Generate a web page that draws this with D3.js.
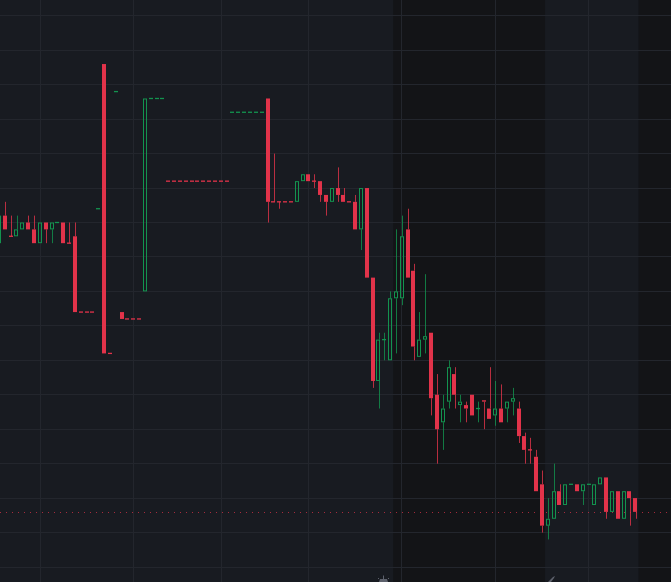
<!DOCTYPE html>
<html><head><meta charset="utf-8">
<script src="https://cdn.jsdelivr.net/npm/d3@7"></script>
<style>html,body{margin:0;padding:0;background:#181b21;overflow:hidden}</style>
</head><body><svg id="c" width="671" height="582"></svg>
<script>
// ---- data (bar index starts at firstBar) ----
const firstBar = -1;
const opens = [194,202,196,196,198,200,198,194,200,198,200,200,194,196,
  174,174,174,204,246,162,238,174,172,172,172,180,236,236,236,
  212,212,212,212,212,212,212,212,212,212,212,
  232,232,232,232,232,232,
  236,206,206,206,206,
  206,212,214,212,212,208,206,210,208,206,206,198,210,184,154,166,160,178,178,198,186,161,166,168,150,142,148,156,147,147,150,146,148.4,146,144,146,146,148,146,138,134,132,124,112,114,122,118,124,124,122,124,118,124,126,116,122,114,122,120];
const highs = [202,206,202,202,200,202,202,200,200,200,200,200,200,200,
  174,174,174,204,246,162,238,174,172,172,172,236,236,236,236,
  212,212,212,212,212,212,212,212,212,212,212,
  232,232,232,232,232,232,
  236,220,206,206,206,
  212,214,214,214,212,208,210,216,210,206,208,210,210,184,168,168,180,198,202,204,188,174,185,168,156,150,160,158,150,148,150,148,148.4,158,154,153,148,152,148,139,137.5,134,128,120,130,124,124,124,124,124,124,124,126,126,122,122,122,122,120];
const lows = [194,198,196,196,198,198,194,194,194,194,200,194,194,174,
  174,174,174,204,162,162,238,172,172,172,172,180,236,236,236,
  212,212,212,212,212,212,212,212,212,212,212,
  232,232,232,232,232,232,
  200,206,204,206,206,
  206,212,212,210,206,202,206,206,206,206,198,192,184,152,146,160,160,162,176,184,160,161,162,144,130,134,146,146,142,142,144,142,140,143,141,142,142,144,136,130,130,122,110,108,114,118,118,124,122,118,124,118,124,114,116,114,114,112,114];
const closes = [202,198,196,198,200,198,194,200,198,200,200,194,194,174,
  174,174,174,204,162,162,238,172,172,172,172,236,236,236,236,
  212,212,212,212,212,212,212,212,212,212,212,
  232,232,232,232,232,232,
  206,206,206,206,206,
  212,214,212,212,208,206,210,208,206,206,198,210,184,154,166,166,178,180,196,184,164,166,167,149,140,146,158,150,148,146,144,146,148,143,146,142,148,149,138,134,134,122,112,114,122,118,124,124,122,124,124,124,126,116,122,114,122,120,116];
const gridPrices = d3.range(100, 261, 10);
const timeTicks = [6, 22, 37, 52, 68, 84, 100];
const extSessions = [[67, 92], [109, 130]];

// ---- setup ----
const W = 671, H = 582;
const UP = "#13934f", DOWN = "#e2334a";
const BG = "#181b21", EXT = "#131417", GRID = "#23262d";
const svg = d3.select("#c");
const x = d3.scaleLinear().domain([-0.857, 114.08]).range([0, W]);
const y = d3.scaleLinear().domain([100, 260]).range([567, 15.8]);
const step = x(1) - x(0);
const bw = step * 0.75;

svg.append("rect").attr("width", W).attr("height", H).attr("fill", BG);
svg.append("g").selectAll("rect").data(extSessions).join("rect")
  .attr("x", d => x(d[0] - 0.5)).attr("y", 0)
  .attr("width", d => x(d[1] + 0.5) - x(d[0] - 0.5)).attr("height", H)
  .attr("fill", EXT);

const grid = svg.append("g").attr("stroke", GRID).attr("stroke-width", 1).attr("shape-rendering", "crispEdges");
grid.selectAll("line.h").data(gridPrices).join("line").attr("class", "h")
  .attr("x1", 0).attr("x2", W).attr("y1", d => y(d)).attr("y2", d => y(d));
grid.selectAll("line.v").data(timeTicks).join("line").attr("class", "v")
  .attr("y1", 0).attr("y2", H).attr("x1", d => x(d)).attr("x2", d => x(d));

// price line
const lastClose = closes[closes.length - 1];
svg.append("line").attr("x1", 0).attr("x2", W)
  .attr("y1", Math.round(y(lastClose)) + 0.5).attr("y2", Math.round(y(lastClose)) + 0.5)
  .attr("stroke", DOWN).attr("stroke-opacity", 0.7).attr("stroke-width", 1)
  .attr("stroke-dasharray", "1 5");

// candles
const data = opens.map((o, j) => ({ i: j + firstBar, o, h: highs[j], l: lows[j], c: closes[j] }));
data.forEach((d, j) => {
  if (d.c !== d.o) d.up = d.c > d.o;
  else if (j > 0 && d.c !== data[j - 1].c) d.up = d.c > data[j - 1].c;
  else d.up = j > 0 ? data[j - 1].up : true;
});

const g = svg.append("g");
data.forEach(d => {
  const cx = x(d.i);
  const col = d.up ? UP : DOWN;
  const px = Math.round(cx) + 0.5;
  const yTop = y(Math.max(d.o, d.c)), yBot = y(Math.min(d.o, d.c));
  const bh = yBot - yTop;
  if (y(d.h) < yTop - 0.3)
    g.append("line").attr("x1", px).attr("x2", px).attr("y1", y(d.h)).attr("y2", yTop)
      .attr("stroke", col).attr("stroke-opacity", 0.8).attr("stroke-width", 1);
  if (y(d.l) > yBot + 0.3)
    g.append("line").attr("x1", px).attr("x2", px).attr("y1", yBot).attr("y2", y(d.l))
      .attr("stroke", col).attr("stroke-opacity", 0.8).attr("stroke-width", 1);
  const left = Math.round(cx - bw / 2);
  const w = Math.round(bw);
  if (!d.up || bh < 3) {
    const hh = Math.max(bh, 1.3);
    g.append("rect").attr("x", left).attr("y", bh < 1.3 ? yTop - 0.65 + bh / 2 : yTop)
      .attr("width", w).attr("height", hh).attr("fill", col);
  } else {
    g.append("rect").attr("x", left + 0.5).attr("y", yTop + 0.5)
      .attr("width", w - 1).attr("height", bh - 1)
      .attr("fill", "none").attr("stroke", col).attr("stroke-width", 1);
  }
});

// bottom event markers (cut off)
const ic = svg.append("g").attr("fill", "#5d616c");
ic.append("path").attr("d", "M379,582 L380,579 L387,579 L388,582 Z");
ic.append("rect").attr("x", 383).attr("y", 575.5).attr("width", 1).attr("height", 3.5);
ic.append("rect").attr("x", 378).attr("y", 578).attr("width", 1).attr("height", 1);
ic.append("rect").attr("x", 388).attr("y", 578).attr("width", 1).attr("height", 1);
ic.append("path").attr("d", "M548,582 L553,577 L555,576 L554,578 L551,582 Z");
</script>
</body></html>
